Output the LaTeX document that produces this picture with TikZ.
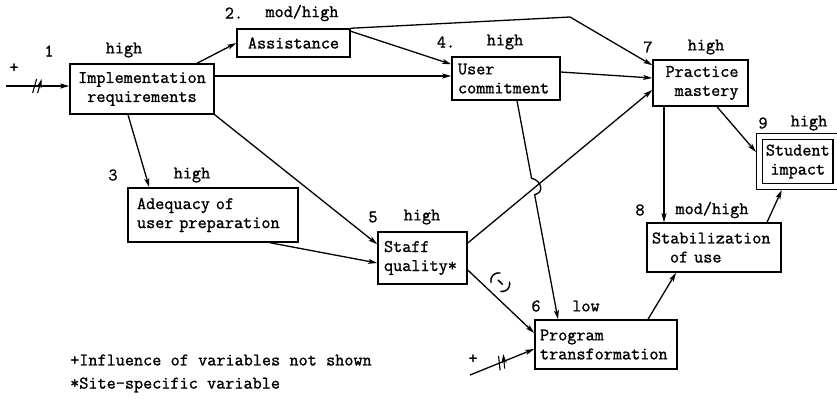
\documentclass[tikz,border=0pt]{standalone}
\usepackage{fontspec}
\usetikzlibrary{arrows.meta,calc,decorations.markings}
% slightly heavier typewriter face, with full-width word spaces
\newfontfamily\typeface[FakeBold=1.2]{Latin Modern Mono}
\newcommand\typefont{\typeface\fontsize{17.7}{19}\selectfont\spaceskip=0.525em\relax}
\begin{document}
\begin{tikzpicture}[x=1pt,y=-1pt,
  box/.style={draw, line width=1.5pt, inner sep=0pt, font=\typefont},
  lab/.style={inner sep=0pt, font=\typefont},
  conn/.style={line width=1.3pt, -{Stealth[length=9pt,width=5pt,inset=2pt]}},
  cut/.style={postaction={decorate},
    decoration={markings, mark=at position 0.5 with
      {\draw[line width=1.1pt] (-5pt,-7pt) -- (-1pt,7pt) (0pt,-7pt) -- (4pt,7pt);}}},
]
\useasboundingbox (0,0) rectangle (837,400);

% variables
\node[box, minimum width=144pt, minimum height=50pt, align=center] (n1) at (142,89) {Implementation\\requirements};
\node[box, minimum width=113pt, minimum height=28pt] (n2) at (293.5,43) {Assistance};
\node[box, text width=152pt, inner xsep=9pt, minimum height=54pt, align=left] (n3) at (213,215) {Adequacy of\\user preparation};
\node[box, text width=96pt, inner xsep=6pt, minimum height=43pt, align=left] (n4) at (506,78.5) {User\\commitment};
\node[box, text width=77pt, inner xsep=6pt, minimum height=52pt, align=left] (n5) at (422.5,258) {Staff\\quality*};
\node[box, text width=132pt, inner xsep=5pt, minimum height=49pt, align=left] (n6) at (606,344.5) {Program\\transformation};
\node[box, text width=76pt, inner xsep=9.5pt, minimum height=46pt, align=right] (n7) at (700.5,83) {Practice\\mastery};
\node[box, text width=124pt, inner xsep=5pt, minimum height=49pt, align=left] (n8) at (714,247.5) {Stabilization\\\hspace*{18pt}of use};
\node[box, line width=1.3pt, double, double distance=4.5pt, outer sep=3.55pt,
      minimum width=76.5pt, minimum height=50pt, align=center] (n9) at (797.75,161.5) {Student\\impact};

% numbers and levels
\node[lab] (l1n) at (49,51) {1};     \node[lab] (l1) at (124,50) {high};
\node[lab] (l2n) at (234,13) {2.};   \node[lab] (l2) at (302,13) {mod/high};
\node[lab] (l3n) at (113,175) {3};   \node[lab] (l3) at (192,175) {high};
\node[lab] (l4n) at (446,42) {4.};   \node[lab] (l4) at (505,42) {high};
\node[lab] (l5n) at (373,217) {5};   \node[lab] (l5) at (422,217) {high};
\node[lab] (l6n) at (536,306) {6};   \node[lab] (l6) at (586,306) {low};
\node[lab] (l7n) at (648,47) {7};    \node[lab] (l7) at (706,47) {high};
\node[lab] (l8n) at (640,210) {8};   \node[lab] (l8) at (712,210) {mod/high};
\node[lab] (l9n) at (763,123) {9};   \node[lab] (l9) at (809,123) {high};

% outside influences
\node[lab] (p1) at (14,68) {+};
\node[lab] (p6) at (473,359) {+};
\coordinate (src1) at (6,86);
\coordinate (src6) at (470,375);

% footnotes
\node[lab, anchor=west] (fn1) at (70,360) {+Influence of variables not shown};
\node[lab, anchor=west] (fn2) at (70,385) {*Site-specific variable};

% connectors
\draw[conn, cut] (src1) -- ([yshift=3pt]n1.west);
\draw[conn, cut] (src6) -- ([yshift=-4.5pt]n6.west);
\draw[conn] ([xshift=55pt]n1.north) -- (n2.west);
\coordinate (k27) at (570,17);
\draw[conn] (n2.north east) -- (k27) -- ([yshift=-6pt]n7.north west);
\draw[conn] ([yshift=-3pt]n2.north east) -- ([yshift=-8pt]n4.north west);
\draw[conn] ([yshift=13pt]n1.east) -- ([yshift=13pt]n1.east -| n4.west);
\draw[conn] ([yshift=6.5pt]n4.east) -- ([yshift=5pt]n7.west);
\draw[conn] ([xshift=-14pt]n1.south) -- ([xshift=22pt]n3.north west);
\draw[conn] (n1.south east) -- ([yshift=-13pt]n5.north west);
\draw[conn] ([xshift=57pt]n3.south) -- ([yshift=-5pt]n5.west);
\draw[conn] ([yshift=15pt]n5.east) -- ([yshift=-7pt]n7.west);
\coordinate (c4) at ([xshift=11pt]n4.south);
\coordinate (c6) at ([xshift=-48pt]n6.north);
\draw[conn] (c4) -- ($(c4)!0.355!(c6)$) .. controls +(10,2) and +(10,-2) .. ($(c4)!0.43!(c6)$) -- (c6);
\draw[conn] ([yshift=-12pt]n5.east) -- node[lab, sloped, above=6pt, pos=0.35] (neg) {(-)} ([yshift=11.5pt]n6.west);
\draw[conn] ([xshift=42pt]n6.north) -- ([xshift=-38pt]n8.south);
\draw[conn] ([xshift=-36.5pt]n7.south) -- ([xshift=-36.5pt]n7.south |- n8.north);
\draw[conn] ([xshift=16.5pt]n7.south) -- ([yshift=9.5pt]n9.west);
\draw[conn] ([xshift=53pt]n8.north) -- ([xshift=-16pt]n9.south);
\end{tikzpicture}
\end{document}
